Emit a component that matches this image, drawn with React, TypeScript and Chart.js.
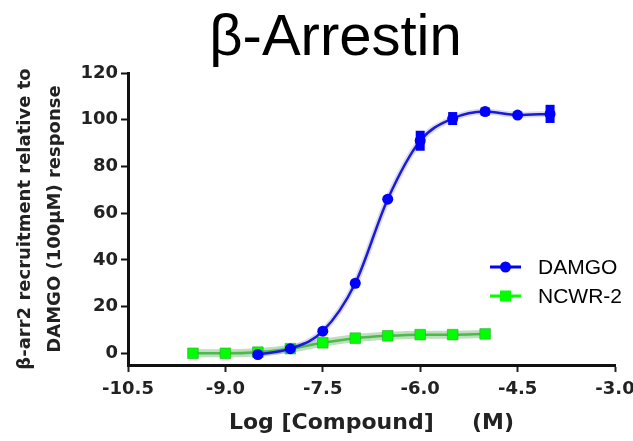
import React, { useEffect, useRef } from "react";
import { Chart, registerables } from "chart.js";

Chart.register(...registerables);

const TITLE = "β-Arrestin";
const Y_TITLE = ["β-arr2 recruitment relative to", "DAMGO (100μM) response"];
const X_TITLE = "Log [Compound]     (M)";
const X_TICKS = [-10.5, -9.0, -7.5, -6.0, -4.5, -3.0];
const Y_TICKS = [0, 20, 40, 60, 80, 100, 120];
const SERIES_NAMES = ["DAMGO", "NCWR-2"];

const DAMGO_LOG = [-8.5, -8.0, -7.5, -7.0, -6.5, -6.0, -5.5, -5.0, -4.5, -4.0];
const DAMGO_MEAN = [-0.5, 2, 9.5, 30, 66, 91, 100.5, 103.5, 102, 102.5];
const DAMGO_SEM = [0, 0, 0, 0, 0, 3, 1.5, 0.5, 0, 2.6];

const NCWR_LOG = [-9.5, -9.0, -8.5, -8.0, -7.5, -7.0, -6.5, -6.0, -5.5, -5.0];
const NCWR_MEAN = [0, 0, 0.5, 2, 4.5, 6.5, 7.5, 8, 8, 8.3];

const BLUE = "#0000ff";
const GREEN = "#00ff00";

const toPts = (xs: number[], ys: number[]) => xs.map((x, i) => ({ x, y: ys[i] }));

const titlePlugin = {
  id: "plotTitle",
  afterDraw(chart: any) {
    const ctx = chart.ctx;
    ctx.save();
    ctx.font = '58px "Liberation Sans", Arial, sans-serif';
    ctx.fillStyle = "#000";
    ctx.textAlign = "center";
    ctx.textBaseline = "alphabetic";
    const ca = chart.chartArea;
    ctx.fillText(TITLE, (ca.left + ca.right) / 2 - 36, 55);
    ctx.restore();
  },
};

const errorBarPlugin = {
  id: "errorBars",
  afterDatasetsDraw(chart: any) {
    const ctx = chart.ctx;
    const xs = chart.scales.x;
    const ys = chart.scales.y;
    ctx.save();
    ctx.strokeStyle = BLUE;
    ctx.lineWidth = 9;
    ctx.lineCap = "butt";
    DAMGO_LOG.forEach((lx, i) => {
      const s = DAMGO_SEM[i];
      if (!s) return;
      const px = xs.getPixelForValue(lx);
      const top = ys.getPixelForValue(DAMGO_MEAN[i] + s) - 3;
      const bot = ys.getPixelForValue(DAMGO_MEAN[i] - s) + 3;
      ctx.beginPath();
      ctx.moveTo(px, top);
      ctx.lineTo(px, bot);
      ctx.stroke();
    });
    ctx.restore();
  },
};

const legendPlugin = {
  id: "insideLegend",
  afterDraw(chart: any) {
    const ctx = chart.ctx;
    const ca = chart.chartArea;
    const x0 = ca.right - 125;
    const y0 = ca.top + 194;
    const colors = [BLUE, GREEN];
    ctx.save();
    SERIES_NAMES.forEach((name, i) => {
      const y = y0 + i * 29;
      ctx.strokeStyle = colors[i];
      ctx.fillStyle = colors[i];
      ctx.lineWidth = 3;
      ctx.beginPath();
      ctx.moveTo(x0, y);
      ctx.lineTo(x0 + 31, y);
      ctx.stroke();
      if (i === 0) {
        ctx.beginPath();
        ctx.arc(x0 + 15.5, y, 5.5, 0, Math.PI * 2);
        ctx.fill();
      } else {
        ctx.fillRect(x0 + 10, y - 5.5, 11, 11);
      }
      ctx.fillStyle = "#000";
      ctx.font = '21px "Liberation Sans", Arial, sans-serif';
      ctx.textAlign = "left";
      ctx.textBaseline = "middle";
      ctx.fillText(name, x0 + 48, y + 1);
    });
    ctx.restore();
  },
};

export default function App() {
  const ref = useRef<HTMLCanvasElement | null>(null);

  useEffect(() => {
    if (!ref.current) return;
    const tickFont = { family: '"DejaVu Sans", sans-serif', size: 18, weight: "bold" as const };
    const chart = new Chart(ref.current, {
      type: "line",
      data: {
        datasets: [
          {
            label: SERIES_NAMES[0],
            data: toPts(DAMGO_LOG, DAMGO_MEAN),
            borderColor: "#1a1ad8",
            backgroundColor: BLUE,
            borderWidth: 2.5,
            pointStyle: "circle",
            pointRadius: 5.5,
            pointBorderWidth: 0,
            cubicInterpolationMode: "monotone",
            order: 0,
          },
          {
            label: SERIES_NAMES[0] + " band",
            data: toPts(DAMGO_LOG, DAMGO_MEAN),
            borderColor: "rgba(110,110,200,0.25)",
            borderWidth: 6,
            pointRadius: 0,
            cubicInterpolationMode: "monotone",
            order: 2,
          },
          {
            label: SERIES_NAMES[1],
            data: toPts(NCWR_LOG, NCWR_MEAN),
            borderColor: "#4cbb4c",
            backgroundColor: GREEN,
            borderWidth: 2.5,
            pointStyle: "rect",
            pointRadius: 7.5,
            pointBorderWidth: 1,
            pointBorderColor: "rgba(40,170,40,0.6)",
            cubicInterpolationMode: "monotone",
            order: 1,
          },
          {
            label: SERIES_NAMES[1] + " band",
            data: toPts(NCWR_LOG, NCWR_MEAN),
            borderColor: "rgba(70,160,70,0.35)",
            borderWidth: 8,
            pointRadius: 0,
            cubicInterpolationMode: "monotone",
            order: 3,
          },
        ],
      },
      options: {
        animation: false,
        responsive: false,
        devicePixelRatio: 1,
        layout: { padding: { top: 73, right: 18, left: 0, bottom: 0 } },
        plugins: {
          legend: { display: false },
          title: { display: false },
          tooltip: { enabled: false },
        },
        scales: {
          x: {
            type: "linear",
            min: -10.5,
            max: -3.0,
            afterBuildTicks: (s: any) => {
              s.ticks = X_TICKS.map((v) => ({ value: v }));
            },
            afterFit: (s: any) => {
              s.height = 76;
              s.paddingRight = 0;
              s.paddingLeft = 0;
            },
            ticks: {
              autoSkip: false,
              maxRotation: 0,
              padding: 7,
              color: "#222",
              font: tickFont,
              callback: (v: any) => Number(v).toFixed(1),
            },
            grid: {
              display: true,
              drawOnChartArea: false,
              drawTicks: true,
              tickLength: 7,
              tickWidth: 2,
              tickColor: "#222",
            },
            border: { display: true, width: 3, color: "#111" },
            title: {
              display: true,
              text: X_TITLE,
              color: "#222",
              font: { family: '"DejaVu Sans", sans-serif', size: 22, weight: "bold" },
              padding: { top: 0, bottom: 5 },
            },
          },
          y: {
            type: "linear",
            min: -5,
            max: 120,
            afterBuildTicks: (s: any) => {
              s.ticks = Y_TICKS.map((v) => ({ value: v }));
            },
            afterFit: (s: any) => {
              s.width = 128;
            },
            ticks: {
              padding: 3,
              color: "#222",
              font: tickFont,
            },
            grid: {
              display: true,
              drawOnChartArea: false,
              drawTicks: true,
              tickLength: 7,
              tickWidth: 2,
              tickColor: "#111",
            },
            border: { display: true, width: 3, color: "#111" },
            title: {
              display: true,
              text: Y_TITLE,
              color: "#222",
              font: { family: '"DejaVu Sans", sans-serif', size: 18, weight: "bold", lineHeight: 1.667 },
              padding: { top: 10, bottom: 0 },
            },
          },
        },
      },
      plugins: [titlePlugin, errorBarPlugin, legendPlugin],
    });
    return () => chart.destroy();
  }, []);

  return (
    <div style={{ position: "absolute", left: 0, top: 0, width: 633, height: 441, background: "#fff" }}>
      <canvas ref={ref} width={633} height={441} style={{ display: "block" }} />
    </div>
  );
}
